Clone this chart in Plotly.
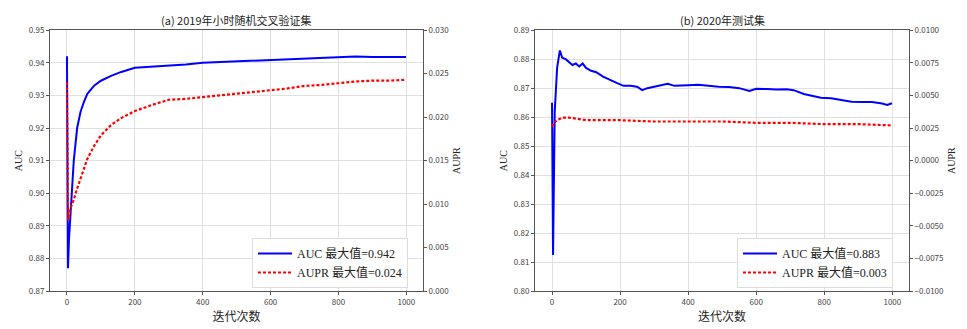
import plotly.graph_objects as go
from plotly.subplots import make_subplots

# ---------------- data (a) ----------------
iter_a_auc = [0, 3, 6, 10, 14, 20, 30, 40, 50, 60, 80, 100, 130, 160, 200, 250, 300, 350,
              400, 450, 500, 550, 600, 650, 700, 750, 800, 850, 900, 950, 999]
auc_a = [0.942, 0.877, 0.886, 0.894, 0.899, 0.910, 0.920, 0.925, 0.928, 0.9305, 0.933,
         0.9345, 0.936, 0.9372, 0.9385, 0.9388, 0.939, 0.9395, 0.940, 0.9402, 0.9405,
         0.9407, 0.941, 0.9411, 0.9413, 0.9414, 0.9417, 0.9419, 0.9418, 0.9419, 0.9418]
iter_a_aupr = [0, 3, 10, 20, 30, 40, 50, 60, 80, 100, 130, 160, 200, 250, 300, 350, 400,
               450, 500, 550, 600, 650, 700, 750, 800, 850, 900, 950, 999]
aupr_a = [0.0240, 0.0082, 0.0095, 0.0105, 0.0118, 0.0130, 0.0142, 0.0152, 0.0167, 0.0179,
          0.0191, 0.0199, 0.0207, 0.0214, 0.0220, 0.0221, 0.0223, 0.0225, 0.0227, 0.0229,
          0.0231, 0.0233, 0.0236, 0.0237, 0.0239, 0.0241, 0.0242, 0.0242, 0.0243]

# ---------------- data (b) ----------------
iter_b_auc = [0, 3, 8, 15, 23, 30, 40, 50, 60, 70, 80, 90, 100, 115, 130, 150, 170, 190,
              210, 230, 250, 265, 280, 300, 320, 340, 360, 380, 400, 430, 460, 490, 520,
              550, 580, 600, 630, 660, 690, 710, 740, 770, 790, 820, 850, 880, 910, 940,
              970, 985, 999]
auc_b = [0.865, 0.8125, 0.862, 0.877, 0.883, 0.8805, 0.880, 0.879, 0.878, 0.8785, 0.8775,
         0.8785, 0.877, 0.876, 0.8755, 0.874, 0.8728, 0.8718, 0.8708, 0.8708, 0.8705,
         0.8693, 0.870, 0.8705, 0.8708, 0.8715, 0.8708, 0.871, 0.871, 0.8712, 0.8708,
         0.8705, 0.8704, 0.870, 0.869, 0.8698, 0.8697, 0.8695, 0.8696, 0.8693, 0.868,
         0.8672, 0.8667, 0.8665, 0.866, 0.8653, 0.8652, 0.8652, 0.8647, 0.8642, 0.8648]
iter_b_aupr = [0, 5, 15, 30, 50, 80, 100, 150, 200, 300, 400, 500, 600, 700, 800, 900, 999]
aupr_b = [0.0026, 0.0029, 0.0031, 0.0033, 0.0033, 0.0032, 0.0031, 0.0031, 0.0031, 0.0030,
          0.0030, 0.0030, 0.0029, 0.0029, 0.0028, 0.0028, 0.0027]

titles = ["(a) 2019年小时随机交叉验证集", "(b) 2020年测试集"]
legend_a = ["AUC 最大值=0.942", "AUPR 最大值=0.024"]
legend_b = ["AUC 最大值=0.883", "AUPR 最大值=0.003"]
xlabel = "迭代次数"
xticks = [0, 200, 400, 600, 800, 1000]

W, H = 967, 329
CJK = "Noto Sans CJK SC"
SERIF = "Liberation Serif, Noto Sans CJK SC"

fig = make_subplots(rows=1, cols=2, specs=[[{"secondary_y": True}, {"secondary_y": True}]])

blue = "#0000ff"
red = "#ff0000"

fig.add_trace(go.Scatter(x=iter_a_auc, y=auc_a, mode="lines", name=legend_a[0],
                         line=dict(color=blue, width=2), legend="legend"),
              row=1, col=1, secondary_y=False)
fig.add_trace(go.Scatter(x=iter_a_aupr, y=aupr_a, mode="lines", name=legend_a[1],
                         line=dict(color=red, width=2.2, dash="3px,2px"), legend="legend"),
              row=1, col=1, secondary_y=True)
fig.add_trace(go.Scatter(x=iter_b_auc, y=auc_b, mode="lines", name=legend_b[0],
                         line=dict(color=blue, width=2), legend="legend2"),
              row=1, col=2, secondary_y=False)
fig.add_trace(go.Scatter(x=iter_b_aupr, y=aupr_b, mode="lines", name=legend_b[1],
                         line=dict(color=red, width=2.2, dash="3px,2px"), legend="legend2"),
              row=1, col=2, secondary_y=True)

def px_x(p):
    return p / W

def px_y(p):
    return 1 - p / H

dom_a = [px_x(50), px_x(423)]
dom_b = [px_x(535), px_x(909)]
ydom = [px_y(295), px_y(25)]

axis_common = dict(showline=True, linecolor="#555555", linewidth=1, ticks="outside",
                   ticklen=3, tickcolor="#555555", tickfont=dict(family=CJK, size=8, color="#444"),
                   gridcolor="#e0e0e0", gridwidth=1, zeroline=False)

fig.update_layout(
    width=W, height=H, margin=dict(l=0, r=0, t=0, b=0),
    paper_bgcolor="white", plot_bgcolor="white",
    xaxis=dict(domain=dom_a, range=[-50, 1049], tickvals=xticks, showgrid=True, mirror=True,
               title=dict(text=xlabel, font=dict(family=CJK, size=12, color="#222"), standoff=6),
               **axis_common),
    xaxis2=dict(domain=dom_b, range=[-50, 1049], tickvals=xticks, showgrid=True, mirror=True,
                title=dict(text=xlabel, font=dict(family=CJK, size=12, color="#222"), standoff=6),
                **axis_common),
    yaxis=dict(domain=ydom, range=[0.87, 0.95], dtick=0.01, tickformat=".2f", showgrid=True,
               title=dict(text="AUC", font=dict(family=SERIF, size=10, color="#222"), standoff=4),
               **axis_common),
    yaxis2=dict(range=[0.0, 0.030], dtick=0.005, tickformat=".3f", showgrid=False, side="right",
                title=dict(text="AUPR", font=dict(family=SERIF, size=10, color="#222"), standoff=4),
                **axis_common),
    yaxis3=dict(domain=ydom, range=[0.80, 0.89], dtick=0.01, tickformat=".2f", showgrid=True,
                title=dict(text="AUC", font=dict(family=SERIF, size=10, color="#222"), standoff=4),
                **axis_common),
    yaxis4=dict(range=[-0.0100, 0.0100], dtick=0.0025, tickformat=".4f", showgrid=False, side="right",
                title=dict(text="AUPR", font=dict(family=SERIF, size=10, color="#222"), standoff=4),
                **axis_common),
    legend=dict(x=px_x(252), y=px_y(240), xanchor="left", yanchor="top",
                bgcolor="rgba(255,255,255,0.85)", bordercolor="#dddddd", borderwidth=1,
                font=dict(family=SERIF, size=12, color="#222"), tracegroupgap=2, itemwidth=34),
    legend2=dict(x=px_x(737), y=px_y(240), xanchor="left", yanchor="top",
                 bgcolor="rgba(255,255,255,0.85)", bordercolor="#dddddd", borderwidth=1,
                 font=dict(family=SERIF, size=12, color="#222"), tracegroupgap=2, itemwidth=34),
    showlegend=True,
)

fig.add_annotation(text=titles[0], x=(dom_a[0] + dom_a[1]) / 2, y=px_y(14), xref="paper", yref="paper",
                   xanchor="center", yanchor="middle",
                   showarrow=False, font=dict(family=CJK, size=11, color="#222"))
fig.add_annotation(text=titles[1], x=(dom_b[0] + dom_b[1]) / 2, y=px_y(14), xref="paper", yref="paper",
                   xanchor="center", yanchor="middle",
                   showarrow=False, font=dict(family=CJK, size=11, color="#222"))

fig.write_html("out.html")
